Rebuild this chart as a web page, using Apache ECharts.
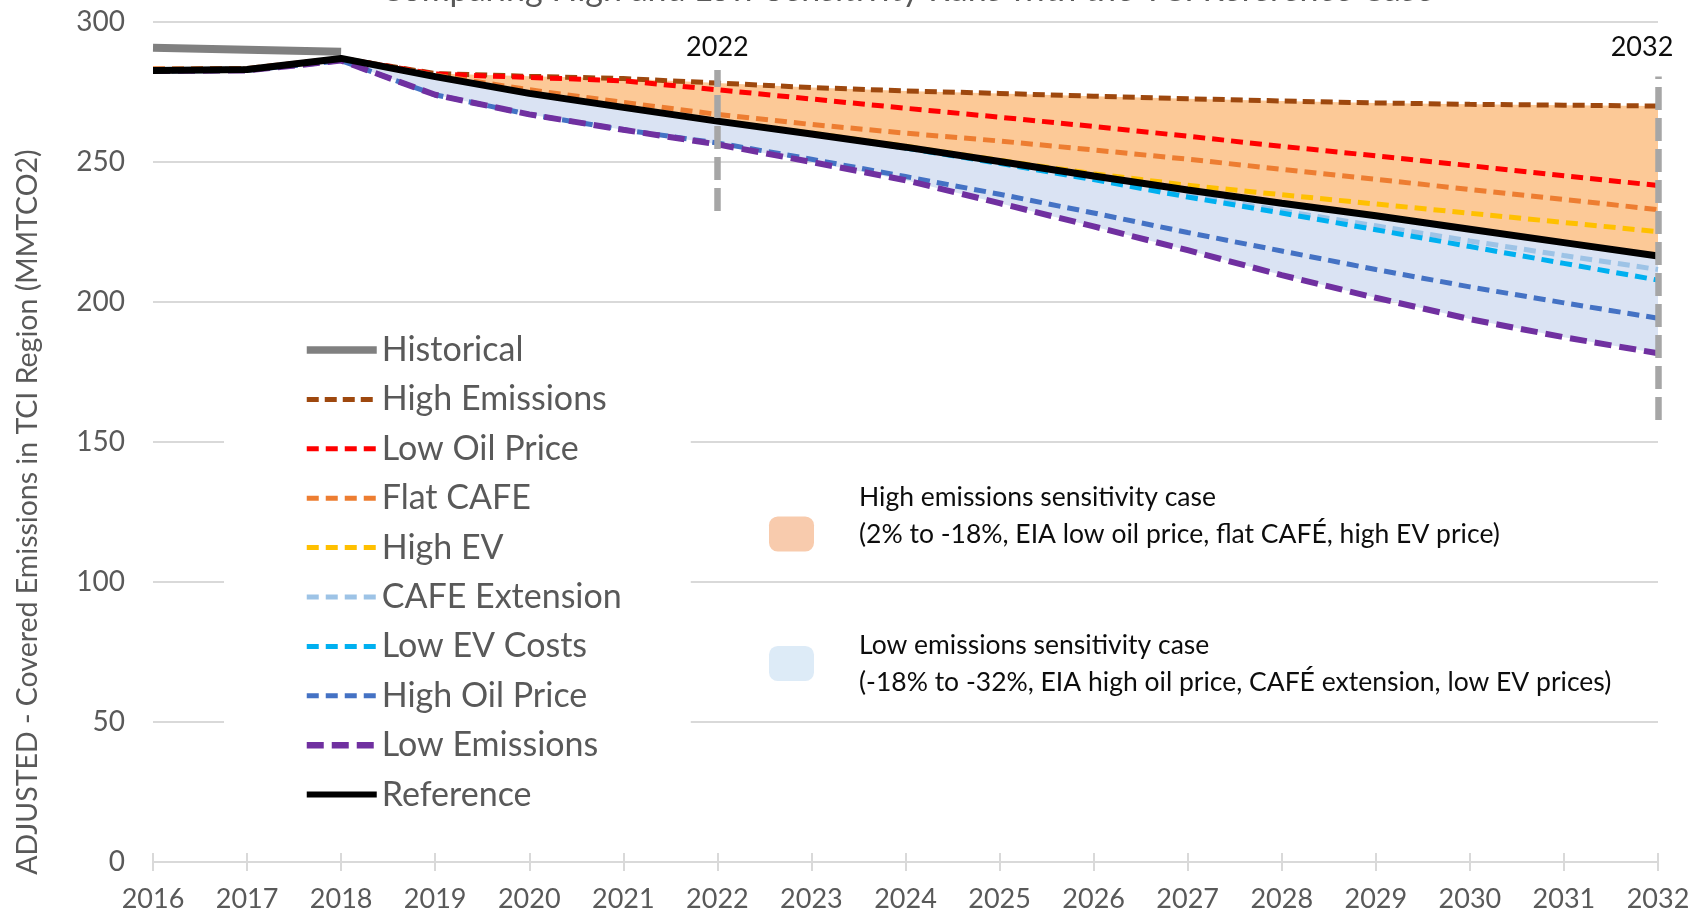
<!DOCTYPE html>
<html lang="en">
<head>
    <meta charset="utf-8">
    <title>TCI sensitivity runs</title>
    <script src="https://cdn.jsdelivr.net/npm/echarts@6/dist/echarts.min.js"></script>
    <style>
        html, body { margin: 0; padding: 0; background: #fff; }
        #chart { width: 1694px; height: 915px; }
    </style>
</head>
<body>
<div id="chart"></div>
<script type="text/javascript">
    // years on the x axis
    var years = ['2016','2017','2018','2019','2020','2021','2022','2023','2024',
                 '2025','2026','2027','2028','2029','2030','2031','2032'];

    // values (MMTCO2)
    var historical    = [290.8, 290.1, 289.4];
    var highEmissions = [282.9, 283.2, 287.0, 281.6, 280.6, 279.8, 278.2, 276.6, 275.4, 274.5, 273.5, 272.6, 271.8, 271.1, 270.6, 270.3, 270.0];
    var lowOilPrice   = [282.9, 283.2, 287.0, 281.4, 280.2, 279.0, 275.8, 272.5, 269.2, 266.0, 262.7, 259.2, 255.6, 252.2, 248.7, 245.1, 241.6];
    var flatCafe      = [283.3, 283.4, 287.0, 281.0, 275.8, 271.3, 267.0, 263.4, 260.3, 257.5, 254.3, 251.0, 247.4, 243.8, 240.2, 236.6, 233.0];
    var highEV        = [282.7, 283.0, 287.0, 280.5, 274.5, 269.5, 264.7, 260.3, 255.6, 250.6, 245.8, 241.7, 238.3, 235.0, 231.7, 228.4, 225.1];
    var cafeExtension = [282.7, 283.0, 287.0, 280.5, 274.5, 269.5, 264.6, 260.0, 255.0, 249.7, 244.0, 238.2, 232.6, 227.2, 221.8, 216.6, 211.6];
    var lowEVCosts    = [282.7, 283.0, 287.0, 280.5, 274.5, 269.5, 264.6, 260.0, 255.0, 249.5, 243.7, 237.5, 231.8, 225.8, 219.8, 213.8, 207.8];
    var highOilPrice  = [282.5, 282.7, 286.2, 274.0, 267.0, 261.5, 256.8, 251.0, 244.8, 238.5, 231.8, 224.8, 218.2, 211.6, 205.4, 199.7, 194.2];
    var lowEmissions  = [282.5, 282.7, 286.2, 274.0, 267.0, 261.5, 256.3, 250.0, 243.5, 235.3, 227.0, 218.5, 209.6, 201.5, 193.9, 187.4, 181.7];
    var reference     = [282.7, 283.0, 287.0, 280.5, 274.5, 269.5, 264.6, 260.0, 255.3, 250.2, 245.0, 240.0, 235.3, 230.8, 226.0, 221.2, 216.4];

    var yTicks = [0, 50, 100, 150, 200, 250, 300];
    var markerYears = ['2022', '2032'];
    var markerSpans = [[232.5, 282.9], [157.9, 280.5]];

    var bandStart = 2; // bands begin at 2018
    var highBandName = 'High emissions sensitivity case';
    var lowBandName = 'Low emissions sensitivity case';
    var bandText = {};
    // trailing newline on the first entry lifts its text a little above the swatch, as in the source
    bandText[highBandName] = 'High emissions sensitivity case\n(2% to -18%, EIA low oil price, flat CAFÉ, high EV price)\n';
    bandText[lowBandName] = 'Low emissions sensitivity case\n(-18% to -32%, EIA high oil price, CAFÉ extension, low EV prices)';

    var FONT = 'Lato, "Open Sans", sans-serif';

    // stacked bands: low emissions -> reference -> high emissions
    var lowBase = [], lowBand = [], highBand = [];
    for (var i = 0; i < years.length; i++) {
        lowBase.push(lowEmissions[i]);
        if (i < bandStart) {
            lowBand.push('-');
            highBand.push('-');
        } else {
            lowBand.push(+(reference[i] - lowEmissions[i]).toFixed(2));
            highBand.push(+(highEmissions[i] - reference[i]).toFixed(2));
        }
    }

    function scenario(name, data, color, width, dash) {
        return {
            name: name,
            type: 'line',
            data: data,
            symbol: 'none',
            lineStyle: { color: color, width: width, type: dash || 'solid', cap: 'butt' },
            itemStyle: { color: color },
            z: 3
        };
    }

    var markerData = [];
    var markerLabel = [{ distance: 9, offset: [0, 0] }, { distance: 16, offset: [-16, 0] }];
    for (var m = 0; m < markerYears.length; m++) {
        markerData.push([
            { coord: [markerYears[m], markerSpans[m][0]] },
            { coord: [markerYears[m], markerSpans[m][1]],
              label: { formatter: markerYears[m], distance: markerLabel[m].distance, offset: markerLabel[m].offset } }
        ]);
    }

    var refSeries = scenario('Reference', reference, '#000000', 7);
    refSeries.markLine = {
        silent: true,
        symbol: ['none', 'none'],
        lineStyle: { color: '#A6A6A6', width: 6.5, type: [23, 8] },
        label: { show: true, position: 'end', color: '#0D0D0D', fontSize: 27, fontFamily: FONT },
        data: markerData
    };

    var chart = echarts.init(document.getElementById('chart'), null, { renderer: 'canvas' });
    var option = {
        animation: false,
        backgroundColor: '#ffffff',
        title: {
            text: 'Comparing High and Low Sensitivity Runs with the TCI Reference Case',
            left: 380,
            top: -27,
            padding: 0,
            textStyle: { fontSize: 34, fontWeight: 'normal', color: '#595959', fontFamily: FONT }
        },
        grid: { left: 153, right: 36, top: 22, bottom: 53 },
        legend: [{
            orient: 'vertical',
            left: 224,
            top: 312,
            data: [
                { name: 'Historical', lineStyle: { width: 7.5 } },
                { name: 'High Emissions' },
                { name: 'Low Oil Price' },
                { name: 'Flat CAFE' },
                { name: 'High EV' },
                { name: 'CAFE Extension' },
                { name: 'Low EV Costs' },
                { name: 'High Oil Price' },
                { name: 'Low Emissions', lineStyle: { width: 6.5 } },
                { name: 'Reference', lineStyle: { width: 6 } }
            ],
            itemWidth: 70,
            itemHeight: 14,
            itemGap: 13.4,
            itemStyle: { opacity: 0 },
            lineStyle: { width: 5 },
            backgroundColor: '#ffffff',
            padding: [20, 69, 28, 79],
            textStyle: { fontSize: 34, color: '#595959', lineHeight: 36, fontFamily: FONT }
        }, {
            orient: 'vertical',
            left: 769,
            top: 478.5,
            icon: 'roundRect',
            itemWidth: 45,
            itemHeight: 35,
            itemGap: 37,
            padding: 0,
            data: [
                { name: highBandName, itemStyle: { color: '#F8CBAD' } },
                { name: lowBandName, itemStyle: { color: '#DDEBF7' } }
            ],
            formatter: function (name) { return bandText[name]; },
            textStyle: { fontSize: 26.5, lineHeight: 37, color: '#0D0D0D', fontFamily: FONT, padding: [0, 0, 0, 40] }
        }],
        graphic: [{
            type: 'text',
            x: 28,
            y: 512,
            rotation: Math.PI / 2,
            style: {
                text: 'ADJUSTED - Covered Emissions in TCI Region (MMTCO2)',
                fill: '#595959',
                fontSize: 28.5,
                fontFamily: FONT,
                textAlign: 'center',
                textVerticalAlign: 'middle'
            }
        }],
        xAxis: [{
            type: 'category',
            data: years,
            boundaryGap: false,
            axisLine: { lineStyle: { color: '#D9D9D9', width: 2 } },
            axisTick: { show: true, length: 9, lineStyle: { color: '#D9D9D9', width: 2 } },
            axisLabel: { color: '#595959', fontSize: 27, margin: 24, fontFamily: FONT },
            splitLine: { show: false }
        }, {
            type: 'category',
            data: years,
            boundaryGap: false,
            position: 'bottom',
            axisLine: { show: false },
            axisTick: { show: true, inside: true, length: 9, lineStyle: { color: '#D9D9D9', width: 2 } },
            axisLabel: { show: false },
            splitLine: { show: false }
        }],
        yAxis: {
            type: 'value',
            min: yTicks[0],
            max: yTicks[yTicks.length - 1],
            interval: 50,
            axisLine: { show: false },
            axisTick: { show: false },
            axisLabel: { color: '#595959', fontSize: 28, margin: 28, fontFamily: FONT },
            splitLine: { lineStyle: { color: '#D9D9D9', width: 2 } }
        },
        series: [
            {
                name: 'lowBase', type: 'line', stack: 'band', data: lowBase, symbol: 'none',
                lineStyle: { opacity: 0, width: 0 }, silent: true, z: 1
            },
            {
                name: lowBandName, type: 'line', stack: 'band', data: lowBand, symbol: 'none',
                lineStyle: { opacity: 0, width: 0 }, areaStyle: { color: '#DAE3F3', opacity: 1 },
                itemStyle: { color: '#DDEBF7' }, silent: true, z: 1
            },
            {
                name: highBandName, type: 'line', stack: 'band', data: highBand, symbol: 'none',
                lineStyle: { opacity: 0, width: 0 }, areaStyle: { color: '#FCC997', opacity: 1 },
                itemStyle: { color: '#F8CBAD' }, silent: true, z: 1
            },
            scenario('Historical', historical, '#808080', 8),
            scenario('High Emissions', highEmissions, '#9E480E', 5, [12, 6]),
            scenario('Low Oil Price', lowOilPrice, '#FF0000', 5, [12, 7]),
            scenario('Flat CAFE', flatCafe, '#ED7D31', 5, [12, 7]),
            scenario('High EV', highEV, '#FFC000', 5, [12, 7]),
            scenario('CAFE Extension', cafeExtension, '#9DC3E6', 5, [12, 7]),
            scenario('Low EV Costs', lowEVCosts, '#00B0F0', 5, [12, 7]),
            scenario('High Oil Price', highOilPrice, '#4472C4', 5, [12, 7]),
            scenario('Low Emissions', lowEmissions, '#7030A0', 6, [17, 8]),
            refSeries
        ]
    };
    chart.setOption(option);
</script>
</body>
</html>
